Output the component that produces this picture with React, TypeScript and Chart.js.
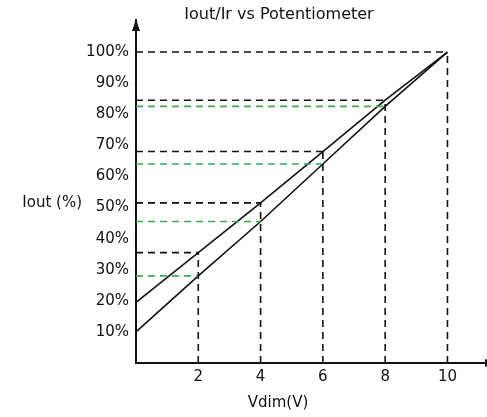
import React, { useEffect, useRef } from "react";
import { Chart, registerables } from "chart.js";

Chart.register(...registerables);

const titleText = "Iout/Ir vs Potentiometer";
const xTitle = "Vdim(V)";
const yTitle = "Iout (%)";

const vdim = [0, 2, 4, 6, 8, 10];
const ioutUpper = [19.5, 35.5, 51.5, 68, 84.5, 100];
const ioutLower = [10, 28, 45.5, 64, 82.5, 100];

const xTickValues = [2, 4, 6, 8, 10];
const yTickValues = [10, 20, 30, 40, 50, 60, 70, 80, 90, 100];

const FONT = "'DejaVu Sans', Verdana, sans-serif";

export default function App() {
  const ref = useRef<HTMLCanvasElement | null>(null);

  useEffect(() => {
    document.body.style.margin = "0";
    const canvas = ref.current!;
    const pts = (ys: number[]) => vdim.map((x, i) => ({ x, y: ys[i] }));

    const datasets: any[] = [];
    // black guides at the upper line
    xTickValues.forEach((xv) => {
      const u = ioutUpper[vdim.indexOf(xv)];
      datasets.push({
        data: [{ x: xv, y: 0 }, { x: xv, y: u }],
        borderColor: "#111",
        borderWidth: 1.6,
        borderDash: [7, 5],
      });
      datasets.push({
        data: [{ x: 0, y: u }, { x: xv, y: u }],
        borderColor: "#111",
        borderWidth: 1.6,
        borderDash: [7, 5],
      });
    });
    // green guides at the lower line
    xTickValues.slice(0, 4).forEach((xv) => {
      const l = ioutLower[vdim.indexOf(xv)];
      datasets.push({
        data: [{ x: 0, y: l }, { x: xv, y: l }],
        borderColor: "#3faa5e",
        borderWidth: 1.7,
        borderDash: [7, 5],
      });
    });
    datasets.push({ data: pts(ioutUpper), borderColor: "#111", borderWidth: 1.6 });
    datasets.push({ data: pts(ioutLower), borderColor: "#111", borderWidth: 1.6 });
    datasets.forEach((d) => {
      d.showLine = true;
      d.pointRadius = 0;
      d.fill = false;
      d.tension = 0;
      d.clip = false;
    });

    const deco = {
      id: "deco",
      afterDraw(chart: any) {
        const ctx = chart.ctx;
        const a = chart.chartArea;
        ctx.save();
        ctx.fillStyle = "#111";
        // y arrow
        ctx.beginPath();
        ctx.moveTo(a.left, a.top - 1);
        ctx.lineTo(a.left - 4, a.top + 11);
        ctx.lineTo(a.left + 4, a.top + 11);
        ctx.closePath();
        ctx.fill();
        // x arrow (tip runs past the right edge)
        ctx.beginPath();
        ctx.moveTo(a.right + 9, a.bottom);
        ctx.lineTo(a.right - 2, a.bottom - 4);
        ctx.lineTo(a.right - 2, a.bottom + 4);
        ctx.closePath();
        ctx.fill();
        // texts
        ctx.textBaseline = "middle";
        ctx.font = `16px ${FONT}`;
        ctx.textAlign = "center";
        ctx.fillText(titleText, 279, 15);
        ctx.font = `15px ${FONT}`;
        ctx.fillText(xTitle, 278, 403);
        ctx.textAlign = "right";
        ctx.fillText(yTitle, 82, 203);
        ctx.restore();
      },
    };

    const chart = new Chart(canvas, {
      type: "scatter",
      data: { datasets },
      plugins: [deco],
      options: {
        animation: false,
        responsive: false,
        events: [],
        layout: { padding: { top: 20, right: 0, left: 0, bottom: 0 } },
        plugins: { legend: { display: false }, tooltip: { enabled: false }, title: { display: false } },
        scales: {
          x: {
            type: "linear",
            min: 0,
            max: 11.27,
            grid: { display: false, drawTicks: false },
            border: { display: true, color: "#111", width: 2 },
            ticks: {
              color: "#111",
              font: { family: FONT, size: 15 },
              padding: 5,
              callback: (v: any) => String(v),
            },
            afterBuildTicks: (s: any) => {
              s.ticks = xTickValues.map((v) => ({ value: v }));
            },
            afterFit: (s: any) => {
              s.height = 54;
            },
          },
          y: {
            type: "linear",
            min: 0,
            max: 110.3,
            grid: { display: false, drawTicks: false },
            border: { display: true, color: "#111", width: 2 },
            ticks: {
              color: "#111",
              font: { family: FONT, size: 15 },
              padding: 7,
              callback: (v: any) => v + "%",
            },
            afterBuildTicks: (s: any) => {
              s.ticks = yTickValues.map((v) => ({ value: v }));
            },
            afterFit: (s: any) => {
              s.width = 136;
            },
          },
        },
      },
    });
    return () => chart.destroy();
  }, []);

  return <canvas ref={ref} width={487} height={417} style={{ display: "block" }} />;
}
